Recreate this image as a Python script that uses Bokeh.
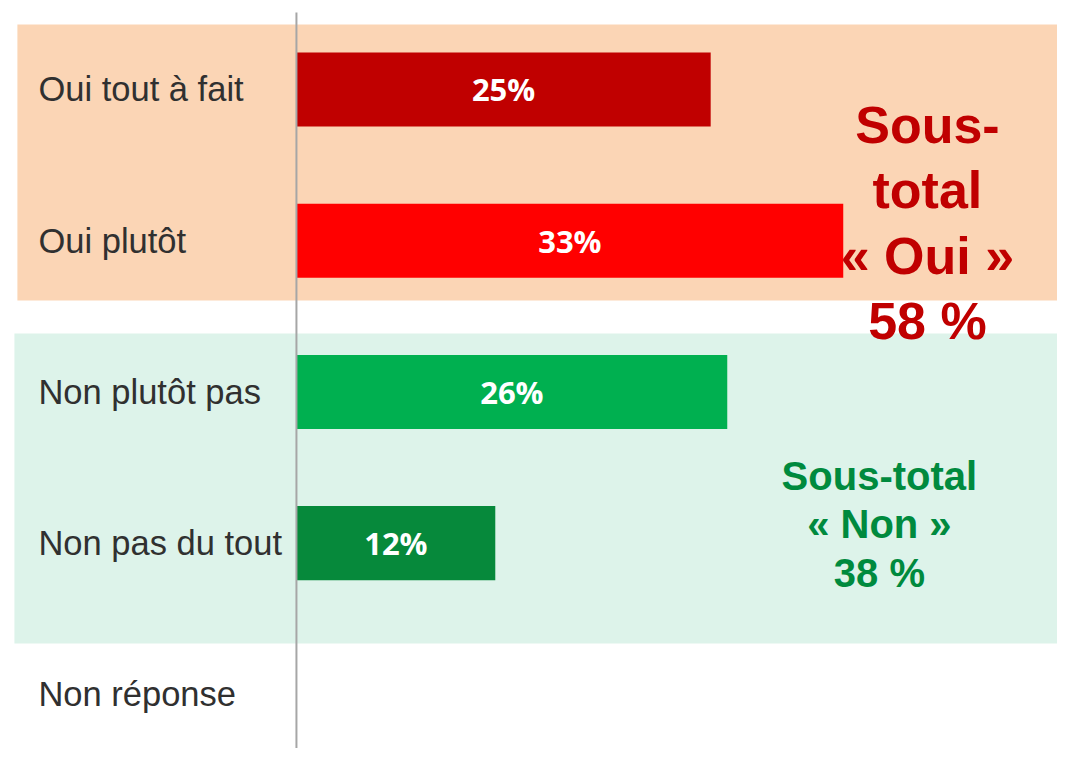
from bokeh.plotting import figure
from bokeh.models import Range1d, ColumnDataSource
from bokeh.core.properties import value
from bokeh.embed import file_html
from bokeh.resources import INLINE

# ---- data ----
categories = ["Oui tout à fait", "Oui plutôt", "Non plutôt pas", "Non pas du tout", "Non réponse"]
percent = [25, 33, 26, 12, None]
bar_colors = ["#C00000", "#FF0000", "#00B050", "#06893B", None]
oui_group = ["Oui tout à fait", "Oui plutôt"]
non_group = ["Non plutôt pas", "Non pas du tout"]

n = len(categories)
ypos = {c: n - 1 - i for i, c in enumerate(categories)}

p = figure(width=1057, height=748, output_backend="svg", toolbar_location=None,
           x_range=Range1d(-17.86, 45.93), y_range=Range1d(-0.3575, 4.588),
           min_border=0, outline_line_color=None)
p.axis.visible = False
p.grid.visible = False
p.background_fill_color = "white"
p.border_fill_color = "white"

# ---- group bands ----
oui_y = [ypos[c] for c in oui_group]
non_y = [ypos[c] for c in non_group]
p.quad(left=-16.84, right=50, top=max(oui_y) + 0.43, bottom=min(oui_y) - 0.395,
       fill_color="#FBD5B5", line_color=None)
p.quad(left=-17.02, right=50, top=max(non_y) + 0.387, bottom=min(non_y) - 0.663,
       fill_color="#DDF3EA", line_color=None)

# ---- bars ----
bars = [(c, v, col) for c, v, col in zip(categories, percent, bar_colors) if v is not None]
src = ColumnDataSource(dict(
    y=[ypos[c] for c, _, _ in bars],
    v=[v for _, v, _ in bars],
    mid=[v / 2 for _, v, _ in bars],
    color=[col for _, _, col in bars],
    label=[f"{v}%" for _, v, _ in bars],
))
p.hbar(y="y", left=0, right="v", height=0.49, fill_color="color", line_color=None, source=src)
p.text(x="mid", y="y", text="label", source=src, text_color="white",
       text_font=value("Open Sans"), text_font_style="bold", text_font_size="31px",
       text_align="center", text_baseline="middle")

# ---- axis line ----
p.segment(x0=0, x1=0, y0=4.509, y1=-0.5, line_color="#A6A6A6", line_width=2)

# ---- category labels ----
p.text(x=[-15.57] * n, y=[ypos[c] for c in categories], text=categories,
       text_color="#303030", text_font=value("Liberation Sans"), text_font_size="34.5px",
       text_align="left", text_baseline="middle")

# ---- subtotals ----
oui_total = sum(percent[categories.index(c)] for c in oui_group)
non_total = sum(percent[categories.index(c)] for c in non_group)
p.text(x=[38.08], y=[3.117], text=[f"Sous-\ntotal\n« Oui »\n{oui_total} %"],
       text_color="#C00000", text_font=value("Liberation Sans"), text_font_style="bold",
       text_font_size="52px", text_align="center", text_baseline="middle",
       text_line_height=1.125)
p.text(x=[35.18], y=[1.124], text=[f"Sous-total\n« Non »\n{non_total} %"],
       text_color="#008A3E", text_font=value("Liberation Sans"), text_font_style="bold",
       text_font_size="40px", text_align="center", text_baseline="middle",
       text_line_height=1.097)

open("out.html", "w").write(file_html(p, INLINE))
